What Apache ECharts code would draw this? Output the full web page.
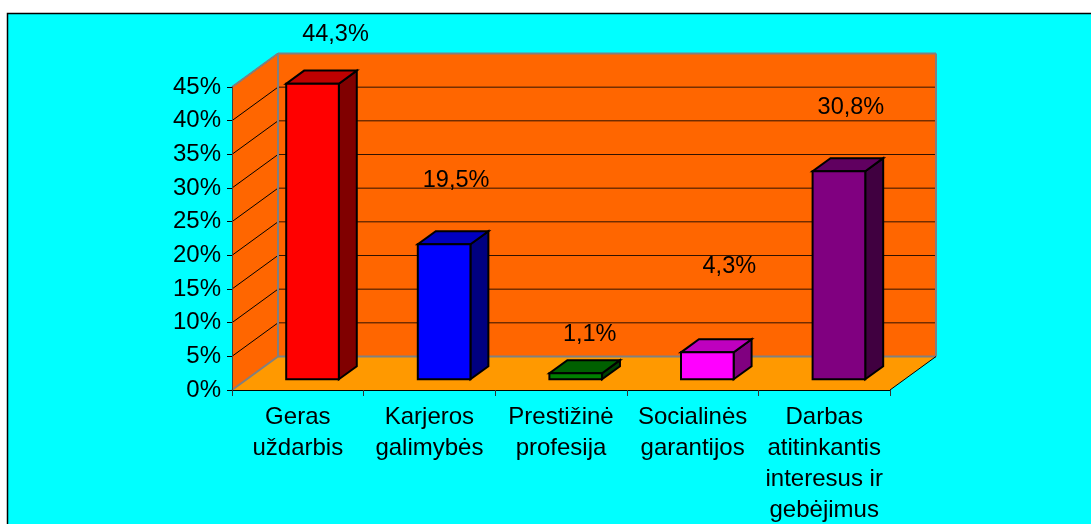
<!DOCTYPE html>
<html>
<head>
<meta charset="utf-8">
<style>html,body{margin:0;padding:0;background:#fff;overflow:hidden}#c{width:1091px;height:524px}</style>
<script src="https://cdn.jsdelivr.net/npm/echarts@6/dist/echarts.min.js"></script>
</head>
<body>
<div id="c"></div>
<script>
var categories = ['Geras\nuždarbis', 'Karjeros\ngalimybės', 'Prestižinė\nprofesija', 'Socialinės\ngarantijos', 'Darbas\natitinkantis\ninteresus ir\ngebėjimus'];
// Bar heights as drawn in the picture; the printed labels are kept as their own text.
var values = [43.9, 20.05, 0.9, 4.0, 30.9];
var labelTexts = ['44,3%', '19,5%', '1,1%', '4,3%', '30,8%'];
var frontColors = ['#FF0000', '#0000FF', '#008000', '#FF00FF', '#800080'];
var topColors = ['#BF0000', '#0000BF', '#006000', '#BF00BF', '#600060'];
var sideColors = ['#800000', '#000080', '#004000', '#800080', '#400040'];
var labelDx = [23, 12, 14, 22, 12];
var labelDy = [-49, -64, -39, -86, -64];

var DEPTH_X = 46, DEPTH_Y = -33.5;
var BAR_NEAR = 0.32, BAR_FAR = 0.71, BAR_WIDTH = 0.4;
var FONT = '"Liberation Sans", Arial, sans-serif';
var chart = echarts.init(document.getElementById('c'));

function poly(points, fill, stroke, w, z) {
  return { type: 'polygon', z2: z || 1, shape: { points: points }, style: { fill: fill, stroke: stroke || null, lineWidth: w || 0 } };
}
function seg(p, q, stroke, w, z) {
  return { type: 'line', z2: z || 2, shape: { x1: p[0], y1: p[1], x2: q[0], y2: q[1] }, style: { stroke: stroke, lineWidth: w } };
}

function renderRoom(params, api) {
  var r = params.coordSys, kids = [];
  var L = r.x, R = r.x + r.width, T = r.y, B = r.y + r.height;
  var dx = DEPTH_X, dy = DEPTH_Y;
  kids.push(poly([[L, B], [L + dx, B + dy], [L + dx, T + dy], [L, T]], '#FF6600'));
  kids.push(poly([[L + dx, B + dy], [R + dx, B + dy], [R + dx, T + dy], [L + dx, T + dy]], '#FF6600'));
  kids.push(poly([[L, B], [R, B], [R + dx, B + dy], [L + dx, B + dy]], '#FF9900'));
  for (var v = 5; v <= 45; v += 5) {
    var y = api.coord([0, v])[1];
    kids.push(seg([L, y], [L + dx, y + dy], '#000', 1));
    kids.push(seg([L + dx, y + dy], [R + dx, y + dy], '#301200', 1));
  }
  kids.push(seg([L + dx, B + dy], [R + dx, B + dy], '#808080', 2, 3));
  kids.push(seg([L + dx, T + dy], [R + dx, T + dy], '#808080', 2, 3));
  kids.push(seg([L + dx, T + dy], [L + dx, B + dy], '#808080', 2, 3));
  kids.push(seg([R + dx, T + dy], [R + dx, B + dy], '#808080', 2, 3));
  kids.push(seg([L, T], [L + dx, T + dy], '#808080', 2, 3));
  kids.push(seg([L, B], [L + dx, B + dy], '#808080', 2, 3));
  kids.push(seg([R, B], [R + dx, B + dy], '#000', 1, 3));
  return { type: 'group', children: kids };
}

function renderBar(params, api) {
  var i = api.value(0), val = api.value(1);
  var band = api.size([1, 0])[0];
  var top = api.coord([i, val]), base = api.coord([i, 0]);
  var w = band * BAR_WIDTH;
  var nx = DEPTH_X * BAR_NEAR, ny = DEPTH_Y * BAR_NEAR;
  var fx = DEPTH_X * BAR_FAR, fy = DEPTH_Y * BAR_FAR;
  var xl = top[0] - w / 2 + nx, xr = top[0] + w / 2 + nx;
  var yt = top[1] + ny, yb = base[1] + ny;
  var ox = fx - nx, oy = fy - ny;
  var st = '#000', lw = 2;
  var kids = [
    poly([[xr, yb], [xr + ox, yb + oy], [xr + ox, yt + oy], [xr, yt]], sideColors[i], st, lw),
    poly([[xl, yt], [xr, yt], [xr + ox, yt + oy], [xl + ox, yt + oy]], topColors[i], st, lw),
    poly([[xl, yb], [xr, yb], [xr, yt], [xl, yt]], frontColors[i], st, lw),
    { type: 'text', z2: 10, style: { text: labelTexts[i], x: top[0] + nx + labelDx[i], y: yt + labelDy[i], align: 'center', verticalAlign: 'middle', font: '23.5px ' + FONT, fill: '#000' } }
  ];
  return { type: 'group', children: kids };
}

chart.setOption({
  animation: false,
  backgroundColor: '#fff',
  graphic: [{ type: 'rect', z: -10, shape: { x: 7.5, y: 13.5, width: 1200, height: 600 }, style: { fill: '#00FFFF', stroke: '#000', lineWidth: 1.5 } }],
  grid: { left: 232, right: 201, top: 87, bottom: 134, outerBoundsMode: 'none' },
  xAxis: {
    type: 'category', data: categories, z: 5,
    axisLine: { lineStyle: { color: '#000', width: 1 } },
    axisTick: { show: true, length: 6, lineStyle: { color: '#333' } },
    axisLabel: { interval: 0, margin: 12, lineHeight: 31, fontSize: 24, fontFamily: FONT, color: '#000' }
  },
  yAxis: {
    type: 'value', min: 0, max: 45, interval: 5, z: 5,
    axisLine: { show: true, lineStyle: { color: '#404040', width: 1 } },
    axisTick: { show: true, length: 5, lineStyle: { color: '#000' } },
    splitLine: { show: false },
    axisLabel: { margin: 11, fontSize: 24, padding: [4, 0, 0, 0], fontFamily: FONT, color: '#000', formatter: '{value}%' }
  },
  series: [
    { type: 'custom', silent: true, z: 1, renderItem: renderRoom, data: [[0, 0]], encode: { x: 0, y: 1 }, clip: false },
    { type: 'custom', silent: true, z: 3, renderItem: renderBar, data: values.map(function (v, i) { return [i, v]; }), encode: { x: 0, y: 1 }, clip: false }
  ]
});
</script>
</body>
</html>
